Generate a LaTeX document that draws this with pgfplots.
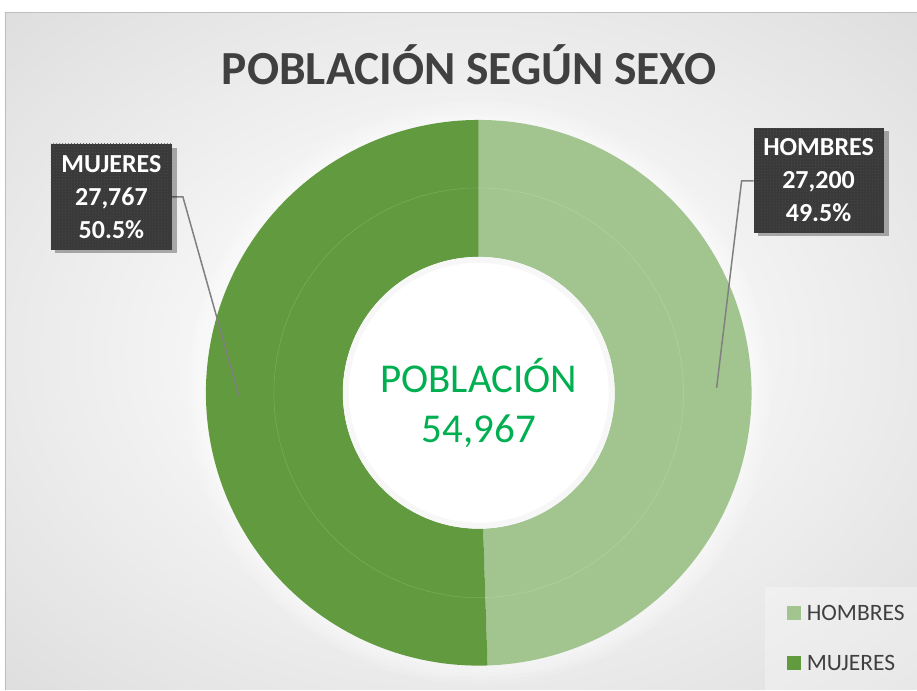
\documentclass[border=0pt]{standalone}
\usepackage{pgfplots}
\pgfplotsset{compat=1.18}
\usepackage{pgfplotstable}
\usepgfplotslibrary{fillbetween}
\usetikzlibrary{patterns}
\usepackage{fontspec}
\setmainfont{Carlito}
\definecolor{hom}{HTML}{A2C590}
\definecolor{muj}{HTML}{629A3F}
\definecolor{ttl}{HTML}{404040}
\definecolor{cgreen}{HTML}{00B050}
\definecolor{boxc}{HTML}{3A3A3A}
\pgfdeclareradialshading{bgshade}{\pgfpoint{0bp}{0bp}}{color(0bp)=(white); color(12bp)=(white!97!black); color(50bp)=(black!19); color(71bp)=(black!25)}
\pgfplotstableread{
label value
HOMBRES 27200
MUJERES 27767
}\datatable
\begin{document}
\begin{tikzpicture}
\pgfplotstablegetelem{0}{value}\of\datatable \edef\vH{\pgfplotsretval}
\pgfplotstablegetelem{1}{value}\of\datatable \edef\vM{\pgfplotsretval}
\edef\aH{\fpeval{round(90-360*\vH/(\vH+\vM),4)}}
\def\cx{479}\def\cy{297}\def\Ro{273}\def\Ri{136}
\begin{axis}[width=917bp,height=690bp,scale only axis,set layers,
  xmin=0,xmax=917,ymin=0,ymax=690,axis lines=none,clip=false]
\path (axis cs:0,0) rectangle (axis cs:917,690);
% background
\begin{pgfonlayer}{axis background}
\shade[shading=bgshade] (axis cs:5,0) rectangle (axis cs:917,677);
\draw[black!25,line width=1bp] (axis cs:5.5,0) -- (axis cs:5.5,677) -- (axis cs:917,677);
\fill[white,opacity=0.14] (axis cs:479,297) circle[radius=292];
\fill[white,opacity=0.14] (axis cs:479,297) circle[radius=288];
\fill[white,opacity=0.14] (axis cs:479,297) circle[radius=284];
\fill[white,opacity=0.14] (axis cs:479,297) circle[radius=280];
\fill[white,opacity=0.14] (axis cs:479,297) circle[radius=277];
\end{pgfonlayer}
% HOMBRES
\addplot[draw=none,name path=ho,domain=\aH:90,samples=120] ({\cx+\Ro*cos(x)},{\cy+\Ro*sin(x)});
\addplot[draw=none,name path=hi,domain=\aH:90,samples=120] ({\cx+\Ri*cos(x)},{\cy+\Ri*sin(x)});
\addplot[fill=hom,draw=none] fill between[of=ho and hi];
% MUJERES
\addplot[draw=none,name path=mo,domain=-270:\aH,samples=120] ({\cx+\Ro*cos(x)},{\cy+\Ro*sin(x)});
\addplot[draw=none,name path=mi,domain=-270:\aH,samples=120] ({\cx+\Ri*cos(x)},{\cy+\Ri*sin(x)});
\addplot[fill=muj,draw=none] fill between[of=mo and mi];
% faint ring
\addplot[draw=white,opacity=0.18,line width=0.5bp,domain=0:360,samples=200] ({\cx+205*cos(x)},{\cy+205*sin(x)});
% hole
\addplot[fill=black!3,draw=none,domain=0:360,samples=200] ({\cx+\Ri*cos(x)},{\cy+\Ri*sin(x)});
\addplot[fill=white,draw=none,domain=0:360,samples=200] ({\cx+(\Ri-6)*cos(x)},{\cy+(\Ri-6)*sin(x)});
% title
\node[anchor=base,text=ttl,font=\fontsize{47.5bp}{56bp}\selectfont\bfseries] at (axis cs:469.5,605) {POBLACIÓN SEGÚN SEXO};
% centre text
\node[anchor=base,text=cgreen,font=\fontsize{41bp}{48bp}\selectfont] at (axis cs:479,297) {POBLACIÓN};
\node[anchor=base,text=cgreen,font=\fontsize{41bp}{48bp}\selectfont] at (axis cs:479,247) {54,967};
% leader lines
\draw[black!50,line width=1.5bp] (axis cs:172,493) -- (axis cs:183,493) -- (axis cs:239,294);
\draw[black!50,line width=1.5bp] (axis cs:754,509) -- (axis cs:742,509) -- (axis cs:717,302);
% label boxes
\fill[black,opacity=0.3] (axis cs:55,437) rectangle (axis cs:177,542);
\fill[boxc] (axis cs:51,440) rectangle (axis cs:172,546);
\fill[pattern=dots,pattern color=black!70] (axis cs:51,440) rectangle (axis cs:172,546);
\node[align=center,text=white,font=\fontsize{26bp}{33bp}\selectfont\bfseries] at (axis cs:111.5,493) {MUJERES\\27,767\\50.5\%};
\fill[black,opacity=0.3] (axis cs:758,454) rectangle (axis cs:889,559);
\fill[boxc] (axis cs:754,457) rectangle (axis cs:884,562);
\fill[pattern=dots,pattern color=black!70] (axis cs:754,457) rectangle (axis cs:884,562);
\node[align=center,text=white,font=\fontsize{26bp}{33bp}\selectfont\bfseries] at (axis cs:819,509.5) {HOMBRES\\27,200\\49.5\%};
% legend
\fill[white,opacity=0.3] (axis cs:765,0) rectangle (axis cs:917,103);
\fill[hom] (axis cs:787,70) rectangle (axis cs:801,84);
\node[anchor=west,text=ttl,font=\fontsize{23.5bp}{26bp}\selectfont,inner sep=0pt] at (axis cs:807,77) {HOMBRES};
\fill[muj] (axis cs:787,20) rectangle (axis cs:801,34);
\node[anchor=west,text=ttl,font=\fontsize{23.5bp}{26bp}\selectfont,inner sep=0pt] at (axis cs:807,27) {MUJERES};
\end{axis}
\end{tikzpicture}
\end{document}
